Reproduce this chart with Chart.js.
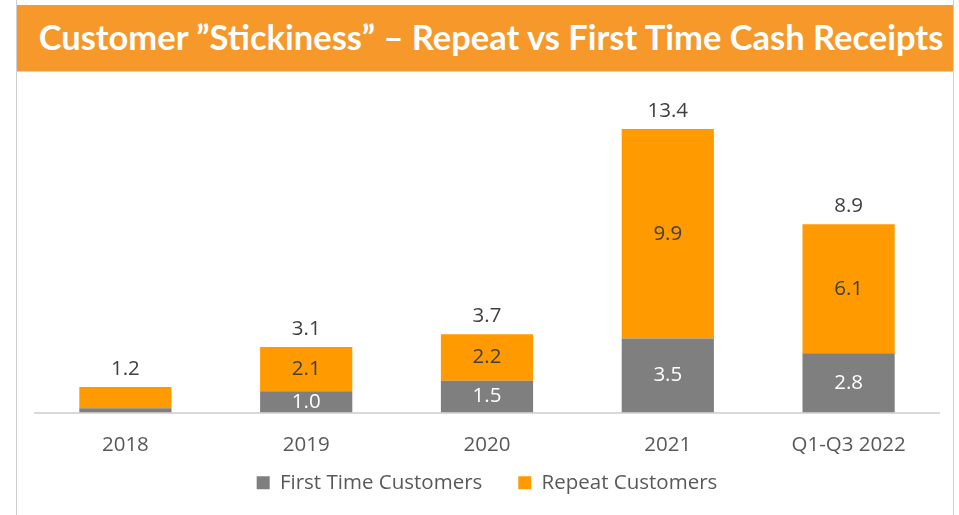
<!DOCTYPE html>
<html>
<head>
<meta charset="utf-8">
<script src="https://cdn.jsdelivr.net/npm/chart.js@4.4.1/dist/chart.umd.min.js"></script>
<style>
  body { margin: 0; background: #fff; width: 959px; height: 515px; overflow: hidden; position: relative; }
  #frame { position: absolute; left: 16px; top: 0; width: 936px; height: 520px; border-left: 1px solid #cfcfcf; border-right: 1px solid #cfcfcf; }
  #header { position: absolute; left: 17px; top: 5px; width: 936px; height: 67px; background: #F6992A; border-bottom: 1px solid #d4d4d4;
            color: #fff; font-family: Lato, sans-serif; font-weight: bold; font-size: 34.5px; line-height: 64px; text-align: center; padding-left: 12px; box-sizing: border-box; white-space: nowrap; }
  #wrap { position: absolute; left: 19px; top: 74px; width: 932px; height: 461px; }
</style>
</head>
<body>
<div id="frame"></div>
<div id="header">Customer ”Stickiness” – Repeat vs First Time Cash Receipts</div>
<div id="wrap"><canvas id="grafico"></canvas></div>
<script>
var categorias = ['2018', '2019', '2020', '2021', 'Q1-Q3 2022']
var primeira_vez = [0.2, 1.0, 1.5, 3.5, 2.8]
var recorrentes = [1.0, 2.1, 2.2, 9.9, 6.1]
var totais = [1.2, 3.1, 3.7, 13.4, 8.9]
var sem_rotulo_interno = ['2018']

var cinza = '#7F7F7F'
var laranja = '#FF9A00'
var fonte = 'Open Sans'

// desenha os valores dentro das barras e os totais em cima
const rotulos = {
    id: 'rotulos',
    afterLayout(chart){
        // legenda mais perto do eixo x
        chart.legend.top -= 20
        chart.legend.bottom -= 20
    },
    afterDatasetsDraw(chart){
        const ctx = chart.ctx
        ctx.save()
        ctx.font = '20.5px "' + fonte + '"'
        ctx.textAlign = 'center'
        ctx.textBaseline = 'middle'
        chart.data.datasets.forEach(function(ds, i){
            const meta = chart.getDatasetMeta(i)
            meta.data.forEach(function(bar, j){
                if (sem_rotulo_interno.includes(categorias[j])) return
                ctx.fillStyle = i == 0 ? '#ffffff' : '#404040'
                ctx.fillText(ds.data[j].toFixed(1), bar.x, (bar.y + bar.base) / 2)
            })
        })
        const topo = chart.getDatasetMeta(1)
        topo.data.forEach(function(bar, j){
            ctx.fillStyle = '#404040'
            ctx.fillText(totais[j].toFixed(1), bar.x, bar.y - 18)
        })
        ctx.restore()
    }
}

const ctx = document.getElementById('grafico').getContext('2d');
const myChart = new Chart(ctx, {
    type: 'bar',
    data: {
        labels: categorias,
        datasets: [{
            label: 'First Time Customers',
            data: primeira_vez,
            backgroundColor: cinza,
            categoryPercentage: 0.51,
            barPercentage: 1
        }, {
            label: 'Repeat Customers',
            data: recorrentes,
            backgroundColor: laranja,
            categoryPercentage: 0.51,
            barPercentage: 1
        }]
    },
    options: {
        responsive: true,
        maintainAspectRatio: false,
        animation: false,
        layout: { padding: { left: 16, right: 12, top: 0, bottom: 12 } },
        plugins: {
            legend: {
                position: 'bottom',
                labels: {
                    boxWidth: 13,
                    boxHeight: 13,
                    padding: 36,
                    color: '#595959',
                    font: { family: fonte, size: 20.5 }
                }
            },
            tooltip: { enabled: false }
        },
        scales: {
            x: {
                stacked: true,
                grid: { display: false, drawTicks: false },
                border: { display: true, color: '#d9d9d9', width: 2 },
                ticks: {
                    padding: 22,
                    color: '#595959',
                    font: { family: fonte, size: 20.5, lineHeight: 1 }
                },
                afterFit: function(scale){ scale.height = 44 }
            },
            y: {
                stacked: true,
                display: false,
                min: 0,
                max: 16
            }
        }
    },
    plugins: [rotulos]
});
</script>
</body>
</html>
